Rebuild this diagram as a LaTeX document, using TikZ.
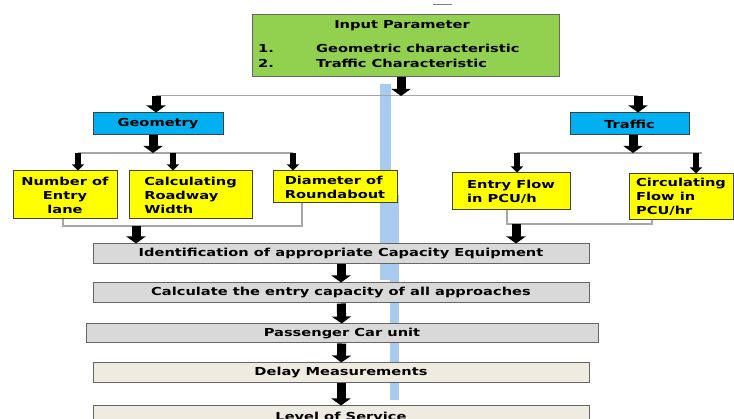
\documentclass[tikz,border=0pt]{standalone}
\usepackage{fontspec}
\setmainfont[FakeStretch=1.33]{DejaVu Sans}
\usepackage{tikz}
\usetikzlibrary{arrows.meta}

\definecolor{inputgreen}{HTML}{92D050}
\definecolor{catblue}{HTML}{00B0F0}
\definecolor{leafyellow}{HTML}{FFFF00}
\definecolor{stepgray}{HTML}{D9D9D9}
\definecolor{stepbeige}{HTML}{EEECE1}
\definecolor{bandblue}{HTML}{A9CBEF}
\definecolor{linkgray}{HTML}{A6A6A6}

\begin{document}
\begin{tikzpicture}[x=1pt,y=-1pt,font=\bfseries\fontsize{11}{14}\selectfont,
    box/.style={draw=black!60,line width=1pt,inner sep=0pt},
    inbox/.style={box,fill=inputgreen,minimum width=307pt,minimum height=62pt},
    catbox/.style={box,draw=black!75,fill=catblue,minimum height=22pt},
    leaf/.style={box,draw=black!75,fill=leafyellow,align=left},
    stepbox/.style={box,fill=stepgray,minimum width=496pt,minimum height=20pt},
    endbox/.style={stepbox,fill=stepbeige},
    bigarrow/.style={-{Triangle[length=7pt,width=19pt]},line width=9pt},
    smallarrow/.style={-{Triangle[length=6pt,width=12pt]},line width=6pt},
    link/.style={draw=linkgray,line width=1.4pt}]
  \useasboundingbox (0,0) rectangle (734,419);
  \clip (0,0) rectangle (734,419);
  \fill[bandblue] (380,84) rectangle (391,280);
  \fill[bandblue] (390,195) rectangle (399,400);
  \draw[gray,line width=1pt] (433,5) -- (452,5);

  \node[inbox] (inp) at (405.5,46) {};
  \node[inner sep=0pt] (inptitle) at (402,26) {Input Parameter};
  \node[inner sep=0pt,anchor=west] (inp1) at (258,48) {\makebox[58pt][l]{1.}Geometric characteristic};
  \node[inner sep=0pt,anchor=west] (inp2) at (258,63) {\makebox[58pt][l]{2.}Traffic Characteristic};

  \node[catbox,minimum width=130pt] (geo)  at (158,124)   {Geometry};
  \node[catbox,minimum width=119pt] (traf) at (629.5,124) {Traffic};

  \node[leaf,align=center,minimum width=104pt,minimum height=48pt] (n1) at (65,195)    {Number of\\Entry\\lane};
  \node[leaf,minimum width=123pt,minimum height=48pt]              (n2) at (190.5,195) {Calculating\\Roadway\\Width};
  \node[leaf,minimum width=124pt,minimum height=32pt]              (n3) at (335,187)   {Diameter of\\Roundabout};
  \node[leaf,minimum width=118pt,minimum height=37pt]              (n4) at (511,191.5) {Entry Flow\\in PCU/h};
  \node[leaf,minimum width=104pt,minimum height=46pt]              (n5) at (681,197)   {Circulating\\Flow in\\PCU/hr};

  \node[stepbox] (s1) at (341,254) {Identification of appropriate Capacity Equipment};
  \node[stepbox] (s2) at (341,293) {Calculate the entry capacity of all approaches};
  \node[stepbox,minimum width=512pt,minimum height=19pt] (s3) at (342,333.5) {Passenger Car unit};
  \node[endbox]  (s4) at (341,373) {Delay Measurements};
  \node[endbox]  (s5) at (341,416) {Level of Service};

  % branching under the input box
  \coordinate (tb) at (401,96);
  \coordinate (tl) at (156,96);
  \coordinate (tr) at (638,96);
  \draw[link,line width=1pt] (tl) -- (tr);
  \draw[bigarrow] (inp.south -| tb) -- (tb);
  \draw[bigarrow] (tl) -- (geo.north -| tl);
  \draw[bigarrow] (tr) -- (traf.north -| tr);

  % geometry branch
  \coordinate (gb) at (153,153);
  \coordinate (g1) at (78,153);
  \coordinate (g2) at (173,153);
  \coordinate (g3) at (293,153);
  \draw[link] (g1) -- (g3);
  \draw[bigarrow] (geo.south -| gb) -- (gb);
  \draw[smallarrow] (g1) -- (n1.north -| g1);
  \draw[smallarrow] (g2) -- (n2.north -| g2);
  \draw[smallarrow] (g3) -- (n3.north -| g3);

  % traffic branch
  \coordinate (fb) at (633,153);
  \coordinate (f1) at (517,153);
  \coordinate (f2) at (696,153);
  \draw[link] (f1) -- ([xshift=6pt]f2);
  \draw[bigarrow] (traf.south -| fb) -- (fb);
  \draw[smallarrow] (f1) -- (n4.north -| f1);
  \draw[smallarrow] (f2) -- (n5.north -| f2);

  % joining lines into the first step
  \coordinate (ga) at (63,226);
  \coordinate (gz) at (302,226);
  \coordinate (gj) at (136,226);
  \draw[link] (n1.south -| ga) -- (ga) -- (gz) -- (n3.south -| gz);
  \draw[bigarrow] (gj) -- (s1.north -| gj);
  \coordinate (fa) at (507,224);
  \coordinate (fz) at (652,224);
  \coordinate (fj) at (516,224);
  \draw[link] (n4.south -| fa) -- (fa) -- (fz) -- (n5.south -| fz);
  \draw[bigarrow] (fj) -- (s1.north -| fj);

  \draw[bigarrow] (s1) -- (s2);
  \draw[bigarrow] (s2) -- (s3);
  \draw[bigarrow] (s3) -- (s4);
  \draw[bigarrow] (s4) -- (s5);
\end{tikzpicture}
\end{document}
